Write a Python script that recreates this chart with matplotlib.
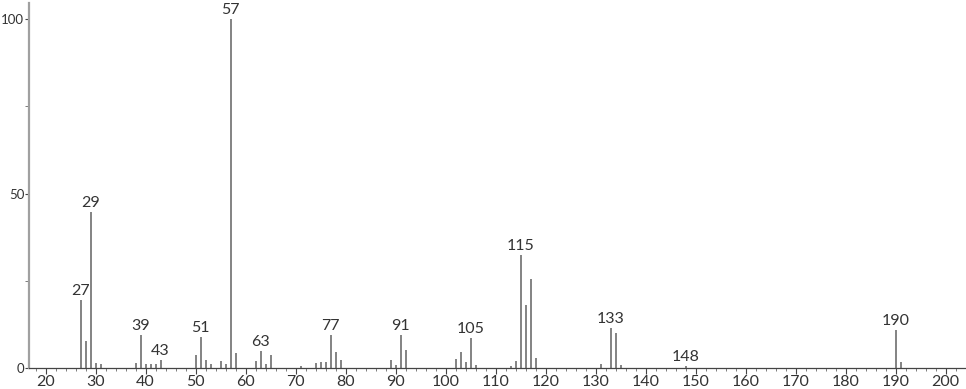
import matplotlib.pyplot as plt
import numpy as np

# m/z and relative intensity
mz = [27, 28, 29, 30, 31, 38, 39, 40, 41, 42, 43, 50, 51, 52, 53, 55, 56, 57, 58,
      62, 63, 64, 65, 71, 74, 75, 76, 77, 78, 79, 89, 90, 91, 92, 102, 103, 104,
      105, 106, 113, 114, 115, 116, 117, 118, 131, 133, 134, 135, 148, 190, 191]
intensity = [19.4, 7.7, 44.7, 1.3, 1.0, 1.3, 9.4, 1.0, 1.2, 1.0, 2.2, 3.6, 8.9, 2.2,
             1.0, 1.9, 1.0, 100.0, 4.2, 1.8, 4.8, 1.2, 3.6, 0.4, 1.3, 1.7, 1.7, 9.4,
             4.6, 2.3, 2.3, 0.8, 9.4, 5.1, 2.6, 4.6, 1.6, 8.5, 0.9, 0.4, 2.0, 32.4,
             18.1, 25.6, 2.9, 1.1, 11.4, 10.0, 0.9, 0.6, 10.8, 1.5]
labeled = [27, 29, 39, 43, 51, 57, 63, 77, 91, 105, 115, 133, 148, 190]

plt.rcParams['font.family'] = ['Lato', 'DejaVu Sans']

fig = plt.figure(figsize=(9.66, 3.89), dpi=100)
ax = fig.add_axes([29 / 966, 21.3 / 389, 937 / 966, 364.7 / 389])

ax.vlines(mz, 0, intensity, colors='#6e6e6e', linewidth=1.2)

for m, v in zip(mz, intensity):
    if m in labeled:
        ax.annotate(str(m), (m, v), xytext=(0, 1.5), textcoords='offset points',
                    ha='center', va='bottom', fontsize=11.5, color='#333333')

ax.set_xlim(16.7, 204.06)
ax.set_ylim(0, 104.7)

ax.set_xticks(np.arange(20, 201, 10))
ax.set_xticks(np.arange(18, 204, 2), minor=True)
ax.set_yticks([0, 50, 100])
ax.set_yticks([25, 75], minor=True)

ax.tick_params(axis='x', which='major', direction='out', length=4, width=0.8,
               color='#444444', labelsize=11.5, pad=1, labelcolor='#333333')
ax.tick_params(axis='x', which='minor', direction='out', length=2, width=0.6,
               color='#666666')
ax.tick_params(axis='y', which='major', direction='out', length=3, width=0.8,
               color='#444444', labelsize=9.5, pad=0.5, labelcolor='#333333')
ax.tick_params(axis='y', which='minor', direction='out', length=3, width=0.6,
               color='#666666')

for side in ['top', 'right']:
    ax.spines[side].set_visible(False)
ax.spines['left'].set_color('#a0a0a0')
ax.spines['left'].set_linewidth(1.6)
ax.spines['bottom'].set_color('#444444')
ax.spines['bottom'].set_linewidth(0.9)

fig.savefig('out.png', dpi=100)
